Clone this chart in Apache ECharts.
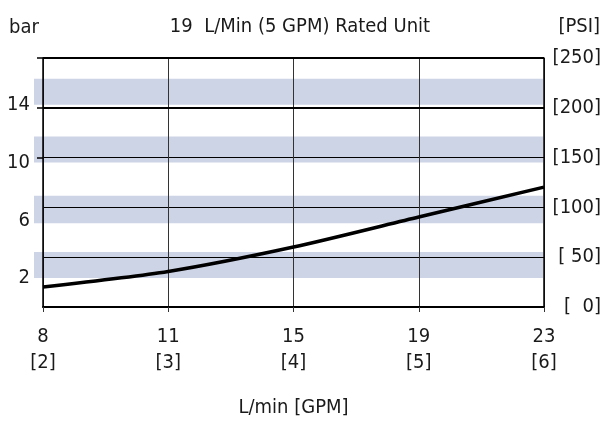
<!DOCTYPE html>
<html>
<head>
<meta charset="utf-8">
<script src="https://cdn.jsdelivr.net/npm/echarts@6/dist/echarts.min.js"></script>
<style>
  html, body { margin: 0; padding: 0; background: #ffffff; }
  #chart { width: 605px; height: 424px; }
</style>
</head>
<body>
<div id="chart"></div>
<script>
// ---- data ----
const flowLpm = ['8', '11', '15', '19', '23'];
const flowGpm = ['2', '3', '4', '5', '6'];
const pressureBar = [1.39, 2.46, 4.15, 6.23, 8.3];
const psiTicks = [0, 50, 100, 150, 200, 250];
const barTicks = [2, 6, 10, 14];
const bandsBar = [[2.0, 3.8], [5.8, 7.7], [10.0, 11.8], [14.0, 15.8]];
const thickPsiLines = [200, 250];
const titleText = '19  L/Min (5 GPM) Rated Unit';
const leftUnit = 'bar';
const rightUnit = '[PSI]';
const xName = 'L/min [GPM]';

const PSI_PER_BAR = 14.5038;
const psiMax = psiTicks[psiTicks.length - 1];
const barMax = psiMax / PSI_PER_BAR;

const FONT = "'Liberation Sans Narrow', 'DejaVu Sans Condensed', 'Roboto', sans-serif";
const FS = 20;
const TXT = '#1a1a1a';
const BAND = '#cdd4e6';

const chart = echarts.init(document.getElementById('chart'), null, { renderer: 'canvas' });

const option = {
  backgroundColor: '#ffffff',
  animation: false,
  textStyle: { fontFamily: FONT, color: TXT },
  grid: [
    { left: 43, top: 58, width: 501, height: 249 },
    { left: 34, top: 58, width: 509, height: 249 }
  ],
  xAxis: [
    {
      gridIndex: 0,
      type: 'category',
      data: flowLpm,
      boundaryGap: false,
      z: 5,
      axisLine: { show: true, lineStyle: { color: '#000', width: 2 } },
      axisTick: { show: true, length: 5, lineStyle: { color: '#333', width: 1 } },
      axisLabel: {
        fontFamily: FONT, fontSize: FS, color: TXT, margin: 17, lineHeight: 26,
        formatter: (v, i) => v + '\n[' + flowGpm[i] + ']'
      },
      splitLine: { show: true, lineStyle: { color: '#333', width: 1 } },
      name: xName,
      nameLocation: 'middle',
      nameGap: 91,
      nameTextStyle: { fontFamily: FONT, fontSize: FS, color: TXT }
    },
    {
      gridIndex: 1, type: 'value', min: 0, max: 1, show: false
    }
  ],
  yAxis: [
    {
      gridIndex: 0,
      type: 'value',
      position: 'left',
      min: 0,
      max: barMax,
      z: 5,
      axisLine: { show: true, lineStyle: { color: '#000', width: 1.5 } },
      axisTick: {
        show: true, length: 6,
        customValues: psiTicks.filter(v => v >= 150).map(v => v / PSI_PER_BAR),
        lineStyle: { color: '#000', width: 1.5 }
      },
      axisLabel: {
        customValues: barTicks,
        fontFamily: FONT, fontSize: FS, color: TXT, margin: 13
      },
      splitLine: { show: false }
    },
    {
      gridIndex: 0,
      type: 'value',
      position: 'right',
      min: 0,
      max: psiMax,
      interval: 50,
      z: 5,
      axisLine: { show: true, lineStyle: { color: '#000', width: 1.5 } },
      axisTick: { show: false },
      axisLabel: {
        fontFamily: FONT, fontSize: FS, color: TXT, align: 'right', margin: 57,
        formatter: v => '[' + String(v).padStart(3, ' ') + ']'
      },
      splitLine: { show: true, lineStyle: { color: '#000', width: 1 } }
    },
    {
      gridIndex: 1, type: 'value', min: 0, max: barMax, show: false
    }
  ],
  graphic: [
    { type: 'text', x: 9, y: 28, style: { text: leftUnit, font: FS + 'px ' + FONT, fill: TXT, align: 'left', verticalAlign: 'middle' } },
    { type: 'text', x: 300, y: 27, style: { text: titleText, font: FS + 'px ' + FONT, fill: TXT, align: 'center', verticalAlign: 'middle' } },
    { type: 'text', x: 600, y: 27, style: { text: rightUnit, font: FS + 'px ' + FONT, fill: TXT, align: 'right', verticalAlign: 'middle' } }
  ],
  series: [
    {
      type: 'line',
      xAxisIndex: 1,
      yAxisIndex: 2,
      data: [],
      z: 1,
      silent: true,
      markArea: {
        silent: true,
        itemStyle: { color: BAND },
        data: bandsBar.map(b => [{ yAxis: b[0] }, { yAxis: b[1] }])
      }
    },
    {
      type: 'line',
      xAxisIndex: 0,
      yAxisIndex: 1,
      data: [],
      z: 6,
      silent: true,
      markLine: {
        silent: true,
        symbol: ['none', 'none'],
        label: { show: false },
        lineStyle: { color: '#000', width: 2, type: 'solid' },
        data: thickPsiLines.map(v => ({ yAxis: v }))
      }
    },
    {
      type: 'line',
      xAxisIndex: 0,
      yAxisIndex: 0,
      data: pressureBar,
      smooth: 0.25,
      symbol: 'none',
      z: 10,
      lineStyle: { color: '#000', width: 3.5 }
    }
  ]
};

chart.setOption(option);
</script>
</body>
</html>
